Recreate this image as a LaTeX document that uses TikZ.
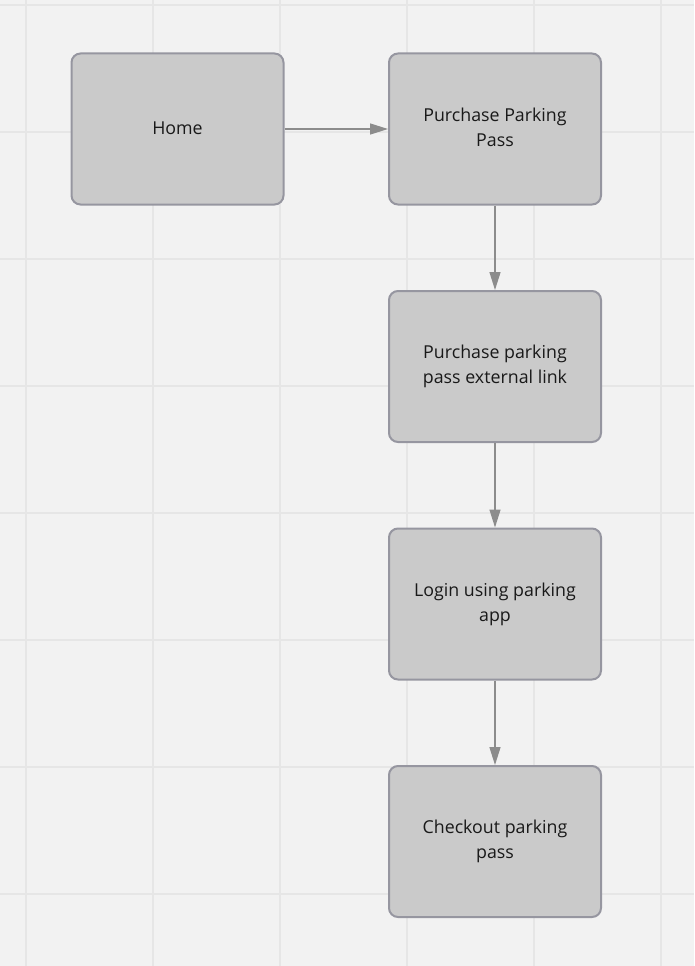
\documentclass[tikz,border=0pt]{standalone}
\usepackage{fontspec}
\setmainfont{Open Sans}
\usetikzlibrary{arrows.meta}
\definecolor{bgc}{HTML}{F2F2F2}
\definecolor{gridc}{HTML}{E6E6E6}
\definecolor{boxfill}{HTML}{CACACA}
\definecolor{boxline}{HTML}{9696A0}
\definecolor{arrc}{HTML}{8C8C8C}
\tikzset{
  stepbox/.style={draw=boxline, fill=boxfill, line width=2pt, rounded corners=9pt,
    minimum width=212pt, minimum height=151pt, inner sep=0pt},
  steptext/.style={align=center, inner sep=0pt,
    font=\fontsize{17.8pt}{25pt}\selectfont, text=black!90},
  flow/.style={draw=arrc, line width=1.4pt, -{Triangle[length=18pt,width=11pt]}}
}
\begin{document}
\begin{tikzpicture}[x=1pt,y=-1pt]
\fill[bgc] (0,0) rectangle (694,966);
\useasboundingbox (0,0) rectangle (694,966);
\foreach \gx in {26,153,280,407,534,661} \draw[gridc, line width=1.5pt] (\gx,0) -- (\gx,966);
\foreach \gy in {5,132,259,386,513,640,767,894} \draw[gridc, line width=1.5pt] (0,\gy) -- (694,\gy);
\node[stepbox] (home) at (177.5,129) {};
\node[stepbox] (pp) at (495,129) {};
\node[stepbox] (ext) at (495,366.5) {};
\node[stepbox] (login) at (495,604) {};
\node[stepbox] (check) at (495,841.5) {};
\node[steptext] (homet) at ([yshift=0.5pt]home.center) {Home};
\node[steptext] (ppt) at ([yshift=2pt]pp.center) {Purchase Parking\\Pass};
\node[steptext] (extt) at (ext.center) {Purchase parking\\pass external link};
\node[steptext] (logint) at (login.center) {Login using parking\\app};
\node[steptext] (checkt) at (check.center) {Checkout parking\\pass};
\draw[flow] (home) -- (pp);
\draw[flow] (pp) -- (ext);
\draw[flow] (ext) -- (login);
\draw[flow] (login) -- (check);
\end{tikzpicture}
\end{document}
